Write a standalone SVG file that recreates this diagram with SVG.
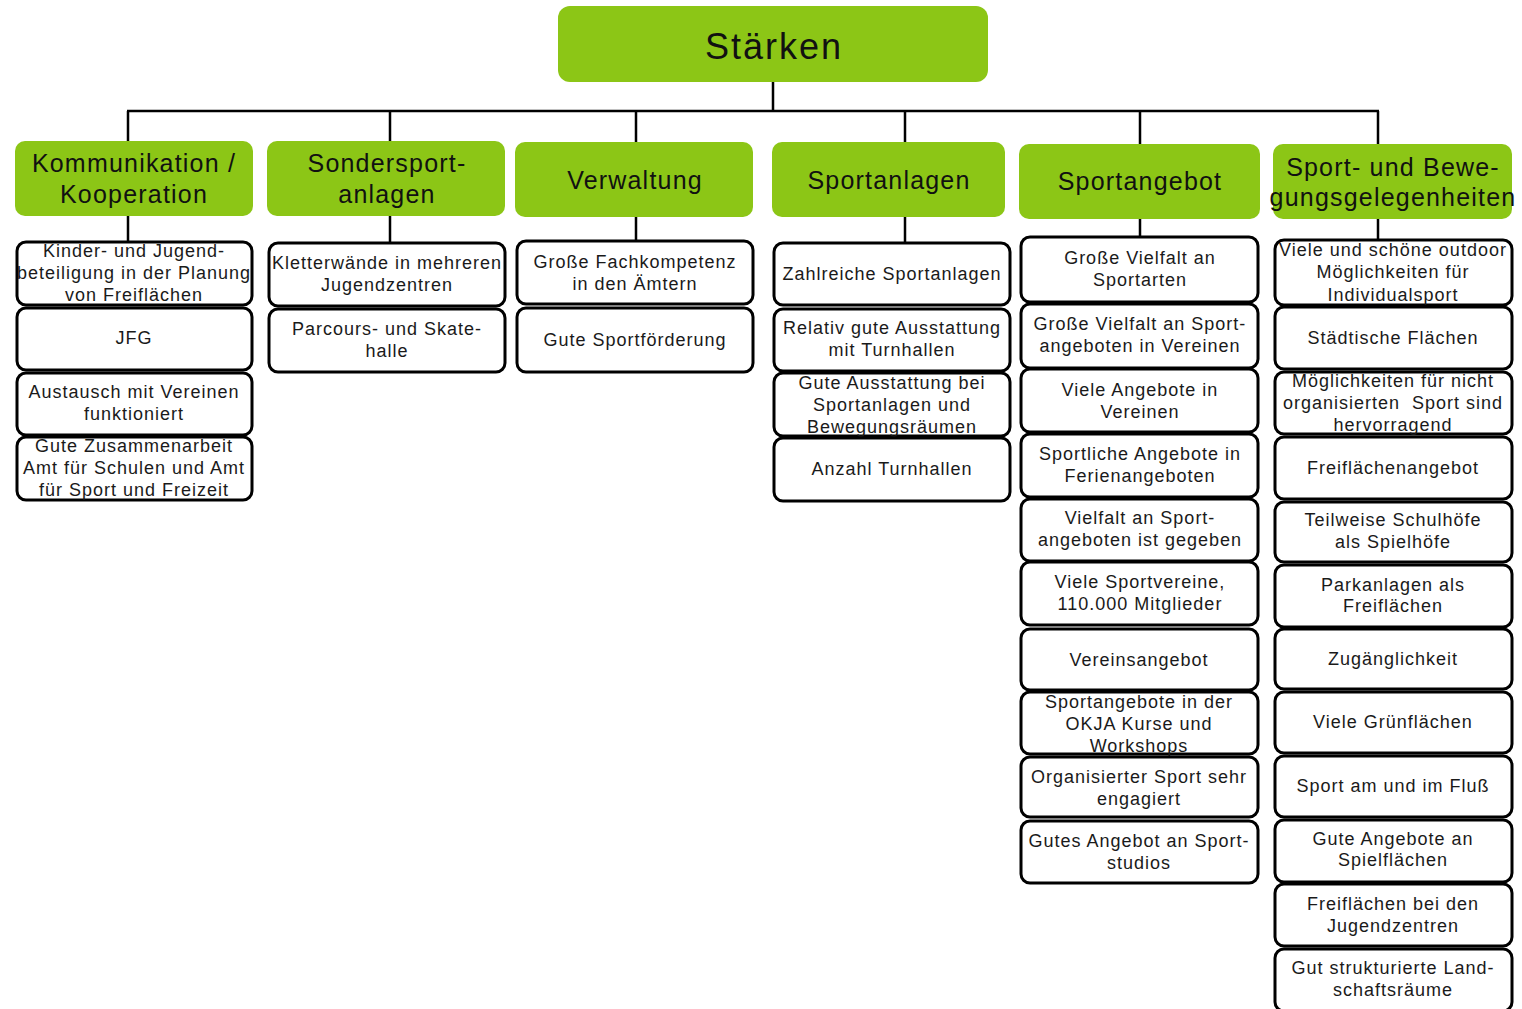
<svg xmlns="http://www.w3.org/2000/svg" width="1522" height="1009" viewBox="0 0 1522 1009">
<style>
.hdr{fill:#8cc616;}
.box{fill:#fff;stroke:#000;stroke-width:3;}
.t{font-family:"Liberation Sans",Arial,sans-serif;font-size:18px;letter-spacing:1px;fill:#1a1a1a;text-anchor:middle;}
.h{font-family:"Liberation Sans",Arial,sans-serif;font-size:25px;letter-spacing:1.2px;fill:#111;text-anchor:middle;}
.ti{font-family:"Liberation Sans",Arial,sans-serif;font-size:36px;letter-spacing:2px;fill:#111;text-anchor:middle;}
.c{stroke:#000;stroke-width:2.5;fill:none;}
</style>
<rect width="1522" height="1009" fill="#fff"/>
<g id="connectors">
<path class="c" d="M773 82V111M127 111H1379M128 111V142M390 111V142M636 111V143M905 111V143M1140 111V145M1378 111V145"/>
<path class="c" d="M128 216V242M390 216V243M636 217V241M905 217V243M1140 219V237M1378 219V240"/>
</g>
<g id="root"><rect class="hdr" x="558" y="6" width="430" height="76" rx="12"/><text class="ti" x="774" y="59">Stärken</text></g>

<g id="h1"><rect class="hdr" x="15" y="141" width="238" height="75" rx="10"/><text class="h" x="134" y="172">Kommunikation /</text><text class="h" x="134" y="203">Kooperation</text></g>
<g id="h2"><rect class="hdr" x="267" y="141" width="238" height="75" rx="10"/><text class="h" x="387" y="172">Sondersport-</text><text class="h" x="387" y="203">anlagen</text></g>
<g id="h3"><rect class="hdr" x="515" y="142" width="238" height="75" rx="10"/><text class="h" x="635" y="189">Verwaltung</text></g>
<g id="h4"><rect class="hdr" x="772" y="142" width="233" height="75" rx="10"/><text class="h" x="889" y="189">Sportanlagen</text></g>
<g id="h5"><rect class="hdr" x="1019" y="144" width="241" height="75" rx="10"/><text class="h" x="1140" y="190">Sportangebot</text></g>
<g id="h6"><rect class="hdr" x="1273" y="144" width="239" height="75" rx="10"/><text class="h" x="1393" y="176">Sport- und Bewe-</text><text class="h" x="1393" y="206">gungsgelegenheiten</text></g>

<g id="c1n1"><rect class="box" x="17" y="242" width="235" height="63" rx="9"/><text class="t" x="134" y="257">Kinder- und Jugend-</text><text class="t" x="134" y="279">beteiligung in der Planung</text><text class="t" x="134" y="301">von Freiflächen</text></g>
<g id="c1n2"><rect class="box" x="17" y="308" width="235" height="62" rx="9"/><text class="t" x="134" y="344">JFG</text></g>
<g id="c1n3"><rect class="box" x="17" y="373" width="235" height="62" rx="9"/><text class="t" x="134" y="398">Austausch mit Vereinen</text><text class="t" x="134" y="420">funktioniert</text></g>
<g id="c1n4"><rect class="box" x="17" y="437" width="235" height="63" rx="9"/><text class="t" x="134" y="452">Gute Zusammenarbeit</text><text class="t" x="134" y="474">Amt für Schulen und Amt</text><text class="t" x="134" y="496">für Sport und Freizeit</text></g>

<g id="c2n1"><rect class="box" x="269" y="243" width="236" height="63" rx="9"/><text class="t" x="387" y="269">Kletterwände in mehreren</text><text class="t" x="387" y="291">Jugendzentren</text></g>
<g id="c2n2"><rect class="box" x="269" y="309" width="236" height="63" rx="9"/><text class="t" x="387" y="335">Parcours- und Skate-</text><text class="t" x="387" y="357">halle</text></g>

<g id="c3n1"><rect class="box" x="517" y="241" width="236" height="63" rx="9"/><text class="t" x="635" y="268">Große Fachkompetenz</text><text class="t" x="635" y="290">in den Ämtern</text></g>
<g id="c3n2"><rect class="box" x="517" y="308" width="236" height="64" rx="9"/><text class="t" x="635" y="346">Gute Sportförderung</text></g>

<g id="c4n1"><rect class="box" x="774" y="243" width="236" height="62" rx="9"/><text class="t" x="892" y="280">Zahlreiche Sportanlagen</text></g>
<g id="c4n2"><rect class="box" x="774" y="309" width="236" height="62" rx="9"/><text class="t" x="892" y="334">Relativ gute Ausstattung</text><text class="t" x="892" y="356">mit Turnhallen</text></g>
<g id="c4n3"><rect class="box" x="774" y="373" width="236" height="63" rx="9"/><text class="t" x="892" y="389">Gute Ausstattung bei</text><text class="t" x="892" y="411">Sportanlagen und</text><text class="t" x="892" y="433">Bewegungsräumen</text></g>
<g id="c4n4"><rect class="box" x="774" y="438" width="236" height="63" rx="9"/><text class="t" x="892" y="475">Anzahl Turnhallen</text></g>

<g id="c5n1"><rect class="box" x="1021" y="237" width="237" height="65" rx="9"/><text class="t" x="1140" y="264">Große Vielfalt an</text><text class="t" x="1140" y="286">Sportarten</text></g>
<g id="c5n2"><rect class="box" x="1021" y="304" width="237" height="64" rx="9"/><text class="t" x="1140" y="330">Große Vielfalt an Sport-</text><text class="t" x="1140" y="352">angeboten in Vereinen</text></g>
<g id="c5n3"><rect class="box" x="1021" y="369" width="237" height="63" rx="9"/><text class="t" x="1140" y="396">Viele Angebote in</text><text class="t" x="1140" y="418">Vereinen</text></g>
<g id="c5n4"><rect class="box" x="1021" y="434" width="237" height="63" rx="9"/><text class="t" x="1140" y="460">Sportliche Angebote in</text><text class="t" x="1140" y="482">Ferienangeboten</text></g>
<g id="c5n5"><rect class="box" x="1021" y="499" width="237" height="62" rx="9"/><text class="t" x="1140" y="524">Vielfalt an Sport-</text><text class="t" x="1140" y="546">angeboten ist gegeben</text></g>
<g id="c5n6"><rect class="box" x="1021" y="562" width="237" height="63" rx="9"/><text class="t" x="1140" y="588">Viele Sportvereine,</text><text class="t" x="1140" y="610">110.000 Mitglieder</text></g>
<g id="c5n7"><rect class="box" x="1021" y="629" width="237" height="61" rx="9"/><text class="t" x="1139" y="666">Vereinsangebot</text></g>
<g id="c5n8"><rect class="box" x="1021" y="692" width="237" height="62" rx="9"/><text class="t" x="1139" y="708">Sportangebote in der</text><text class="t" x="1139" y="730">OKJA Kurse und</text><text class="t" x="1139" y="752">Workshops</text></g>
<g id="c5n9"><rect class="box" x="1021" y="757" width="237" height="60" rx="9"/><text class="t" x="1139" y="783">Organisierter Sport sehr</text><text class="t" x="1139" y="805">engagiert</text></g>
<g id="c5n10"><rect class="box" x="1021" y="821" width="237" height="62" rx="9"/><text class="t" x="1139" y="847">Gutes Angebot an Sport-</text><text class="t" x="1139" y="869">studios</text></g>

<g id="c6n1"><rect class="box" x="1275" y="240" width="237" height="65" rx="9"/><text class="t" x="1393" y="256">Viele und schöne outdoor</text><text class="t" x="1393" y="278">Möglichkeiten für</text><text class="t" x="1393" y="301">Individualsport</text></g>
<g id="c6n2"><rect class="box" x="1275" y="307" width="237" height="62" rx="9"/><text class="t" x="1393" y="344">Städtische Flächen</text></g>
<g id="c6n3"><rect class="box" x="1275" y="372" width="237" height="62" rx="9"/><text class="t" x="1393" y="387">Möglichkeiten für nicht</text><text class="t" x="1393" y="409">organisierten&#160; Sport sind</text><text class="t" x="1393" y="431">hervorragend</text></g>
<g id="c6n4"><rect class="box" x="1275" y="437" width="237" height="62" rx="9"/><text class="t" x="1393" y="474">Freiflächenangebot</text></g>
<g id="c6n5"><rect class="box" x="1275" y="502" width="237" height="60" rx="9"/><text class="t" x="1393" y="526">Teilweise Schulhöfe</text><text class="t" x="1393" y="548">als Spielhöfe</text></g>
<g id="c6n6"><rect class="box" x="1275" y="565" width="237" height="62" rx="9"/><text class="t" x="1393" y="591">Parkanlagen als</text><text class="t" x="1393" y="612">Freiflächen</text></g>
<g id="c6n7"><rect class="box" x="1275" y="629" width="237" height="60" rx="9"/><text class="t" x="1393" y="665">Zugänglichkeit</text></g>
<g id="c6n8"><rect class="box" x="1275" y="692" width="237" height="61" rx="9"/><text class="t" x="1393" y="728">Viele Grünflächen</text></g>
<g id="c6n9"><rect class="box" x="1275" y="756" width="237" height="61" rx="9"/><text class="t" x="1393" y="792">Sport am und im Fluß</text></g>
<g id="c6n10"><rect class="box" x="1275" y="820" width="237" height="62" rx="9"/><text class="t" x="1393" y="845">Gute Angebote an</text><text class="t" x="1393" y="866">Spielflächen</text></g>
<g id="c6n11"><rect class="box" x="1275" y="884" width="237" height="62" rx="9"/><text class="t" x="1393" y="910">Freiflächen bei den</text><text class="t" x="1393" y="932">Jugendzentren</text></g>
<g id="c6n12"><rect class="box" x="1275" y="949" width="237" height="62" rx="9"/><text class="t" x="1393" y="974">Gut strukturierte Land-</text><text class="t" x="1393" y="996">schaftsräume</text></g>
</svg>
